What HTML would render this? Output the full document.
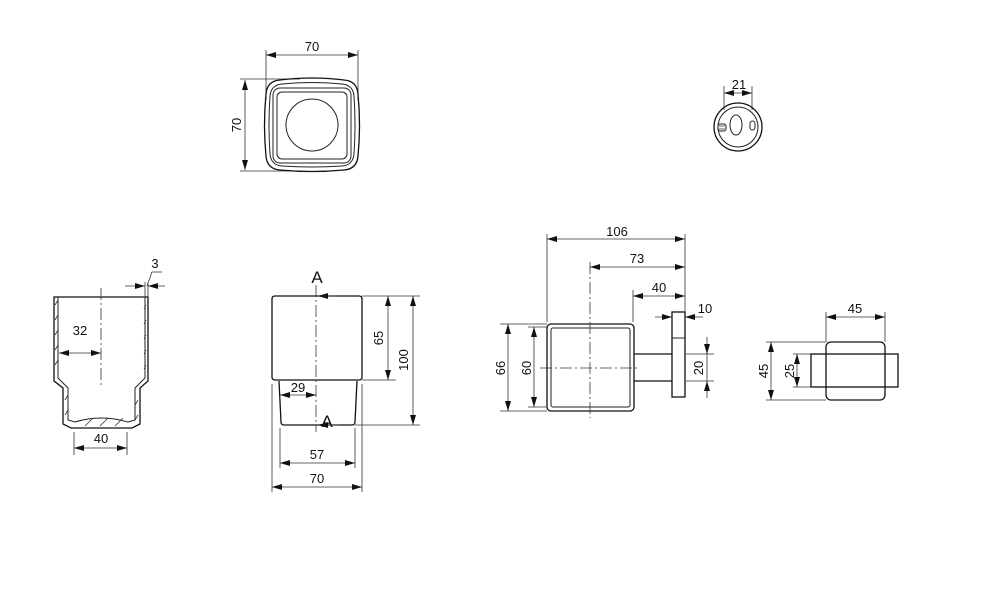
<!DOCTYPE html>
<html><head><meta charset="utf-8"><style>
html,body{margin:0;padding:0;background:#fff}
svg{display:block}
text{font-family:"Liberation Sans",sans-serif;font-size:13px;fill:#111}
.l{stroke:#222;stroke-width:1;fill:none}
.t{stroke:#333;stroke-width:0.8;fill:none}
.b{stroke:#111;stroke-width:1.3;fill:none}
.c{stroke:#333;stroke-width:0.8;fill:none;stroke-dasharray:12 3 2 3}
</style></head><body>
<svg width="1000" height="605" viewBox="0 0 1000 605" xmlns="http://www.w3.org/2000/svg">
<defs>
<marker id="a" viewBox="0 0 10 6" refX="10" refY="3" markerWidth="10" markerHeight="6" orient="auto-start-reverse" markerUnits="userSpaceOnUse"><path d="M0,0L10,3L0,6z" fill="#111"/></marker>
</defs>

<!-- Top view -->
<path class="t" d="M266,50V100M358,50V100M240,79H300M240,171H300"/>
<line class="t" x1="266" y1="55" x2="358" y2="55" marker-start="url(#a)" marker-end="url(#a)"/>
<text x="312" y="51" text-anchor="middle">70</text>
<line class="t" x1="245" y1="80" x2="245" y2="170" marker-start="url(#a)" marker-end="url(#a)"/>
<text transform="translate(241,125) rotate(-90)" text-anchor="middle">70</text>
<path class="b" d="M280,80 Q312,76 344,80 Q357,81 358,94 Q361,125 358,156 Q357,169 344,170 Q312,173 280,170 Q267,169 266,156 Q263,125 266,94 Q267,81 280,80Z"/>
<path class="l" d="M282,84 Q312,81 342,84 Q353,85 354,96 Q356,125 354,154 Q353,165 342,166 Q312,168 282,166 Q271,165 270,154 Q268,125 270,96 Q271,85 282,84Z"/>
<rect class="l" x="273" y="88" width="78" height="75" rx="7"/>
<rect class="l" x="277" y="92" width="70" height="67" rx="5"/>
<circle class="l" cx="312" cy="125" r="26"/>

<!-- small circle view -->
<path class="t" d="M724,86V110M752,86V110"/>
<line class="t" x1="724" y1="93" x2="752" y2="93" marker-start="url(#a)" marker-end="url(#a)"/>
<text x="739" y="89" text-anchor="middle">21</text>
<circle class="b" cx="738" cy="127" r="24"/>
<circle class="l" cx="738" cy="127" r="20"/>
<ellipse class="l" cx="736" cy="125" rx="6" ry="10"/>
<rect class="l" x="750" y="121" width="5" height="9" rx="2.5"/>
<rect class="l" x="718" y="124" width="8" height="7" rx="2"/>
<path class="t" d="M719,126H725M719,129H725"/>

<!-- section view -->
<path class="b" d="M54,297H148V381L140,388V424L132,428H71L63,424V388L54,381Z"/>
<path class="l" d="M58,297V378L68,388V420L75,422Q101,414 128,422L135,420V388L145,378V297"/>
<path class="t" d="M55,305l3,-5M55,320l3,-5M55,335l3,-5M55,350l3,-5M55,365l3,-5M146,305l-2,4M146,320l-2,4M146,335l-2,4M146,350l-2,4M146,365l-2,4M65,400l3,-5M65,415l3,-5M138,400l-3,5M138,415l-3,5M85,426l8,-8M100,426l8,-8M115,426l8,-8"/>
<line class="c" x1="101" y1="288" x2="101" y2="385"/>
<line class="t" x1="59" y1="353" x2="101" y2="353" marker-start="url(#a)" marker-end="url(#a)"/>
<text x="80" y="335" text-anchor="middle">32</text>
<path class="t" d="M74,432V455M127,432V455"/>
<line class="t" x1="74" y1="448" x2="127" y2="448" marker-start="url(#a)" marker-end="url(#a)"/>
<text x="101" y="443" text-anchor="middle">40</text>
<line class="t" x1="125" y1="286" x2="145" y2="286" marker-end="url(#a)"/>
<line class="t" x1="165" y1="286" x2="148" y2="286" marker-end="url(#a)"/>
<path class="t" d="M145,282V297M148,282V297M147,286L152,272H162"/>
<text x="155" y="268" text-anchor="middle">3</text>

<!-- front view -->
<path class="b" d="M275,296H359Q362,296 362,299V377Q362,380 359,380H275Q272,380 272,377V299Q272,296 275,296Z"/>
<path class="b" d="M279,381L281,422Q281,425 284,425H352Q355,425 355,422L357,381"/>
<line class="c" x1="316" y1="285" x2="316" y2="432"/>
<text x="317" y="283" text-anchor="middle" style="font-size:17px">A</text>
<text x="327" y="427" text-anchor="middle" style="font-size:17px">A</text>
<line class="t" x1="336" y1="296" x2="318" y2="296" marker-end="url(#a)"/>
<line class="t" x1="340" y1="425" x2="318" y2="425" marker-end="url(#a)"/>
<path class="t" d="M362,296H420M362,380H396M355,425H420M272,384V492M362,384V492M280,428V468M355,428V468"/>
<line class="t" x1="388" y1="296" x2="388" y2="380" marker-start="url(#a)" marker-end="url(#a)"/>
<text transform="translate(383,338) rotate(-90)" text-anchor="middle">65</text>
<line class="t" x1="413" y1="296" x2="413" y2="425" marker-start="url(#a)" marker-end="url(#a)"/>
<text transform="translate(408,360) rotate(-90)" text-anchor="middle">100</text>
<line class="t" x1="280" y1="395" x2="316" y2="395" marker-start="url(#a)" marker-end="url(#a)"/>
<text x="298" y="392" text-anchor="middle">29</text>
<line class="t" x1="280" y1="463" x2="355" y2="463" marker-start="url(#a)" marker-end="url(#a)"/>
<text x="317" y="459" text-anchor="middle">57</text>
<line class="t" x1="272" y1="487" x2="362" y2="487" marker-start="url(#a)" marker-end="url(#a)"/>
<text x="317" y="483" text-anchor="middle">70</text>

<!-- side view -->
<rect class="b" x="547" y="324" width="87" height="87" rx="4"/>
<rect class="l" x="551" y="328" width="79" height="79" rx="2"/>
<line class="c" x1="540" y1="368" x2="637" y2="368"/>
<line class="c" x1="590" y1="262" x2="590" y2="418"/>
<path class="b" d="M634,354H672M634,381H672"/>
<rect class="b" x="672" y="312" width="13" height="85"/>
<path class="l" d="M672,338H685"/>
<path class="t" d="M547,234V322M685,234V312M633,290V322M500,324H547M528,327H547M500,411H547M528,407H547M686,354H714M686,381H714"/>
<line class="t" x1="547" y1="239" x2="685" y2="239" marker-start="url(#a)" marker-end="url(#a)"/>
<text x="617" y="236" text-anchor="middle">106</text>
<line class="t" x1="590" y1="267" x2="685" y2="267" marker-start="url(#a)" marker-end="url(#a)"/>
<text x="637" y="263" text-anchor="middle">73</text>
<line class="t" x1="633" y1="296" x2="685" y2="296" marker-start="url(#a)" marker-end="url(#a)"/>
<text x="659" y="292" text-anchor="middle">40</text>
<line class="t" x1="655" y1="317" x2="672" y2="317" marker-end="url(#a)"/>
<line class="t" x1="703" y1="317" x2="685" y2="317" marker-end="url(#a)"/>
<text x="705" y="313" text-anchor="middle">10</text>
<line class="t" x1="508" y1="324" x2="508" y2="411" marker-start="url(#a)" marker-end="url(#a)"/>
<text transform="translate(505,368) rotate(-90)" text-anchor="middle">66</text>
<line class="t" x1="534" y1="327" x2="534" y2="407" marker-start="url(#a)" marker-end="url(#a)"/>
<text transform="translate(531,368) rotate(-90)" text-anchor="middle">60</text>
<line class="t" x1="707" y1="337" x2="707" y2="354" marker-end="url(#a)"/>
<line class="t" x1="707" y1="398" x2="707" y2="381" marker-end="url(#a)"/>
<line class="t" x1="707" y1="354" x2="707" y2="381"/>
<text transform="translate(703,368) rotate(-90)" text-anchor="middle">20</text>

<!-- right view -->
<rect class="b" x="826" y="342" width="59" height="58" rx="5"/>
<rect class="b" x="811" y="354" width="87" height="33" fill="#fff"/>
<path class="t" d="M826,312V342M885,312V342M766,342H826M793,354H811M766,400H826M793,387H811"/>
<line class="t" x1="826" y1="317" x2="885" y2="317" marker-start="url(#a)" marker-end="url(#a)"/>
<text x="855" y="313" text-anchor="middle">45</text>
<line class="t" x1="771" y1="342" x2="771" y2="400" marker-start="url(#a)" marker-end="url(#a)"/>
<text transform="translate(768,371) rotate(-90)" text-anchor="middle">45</text>
<line class="t" x1="797" y1="354" x2="797" y2="387" marker-start="url(#a)" marker-end="url(#a)"/>
<text transform="translate(794,371) rotate(-90)" text-anchor="middle">25</text>
</svg>
</body></html>
